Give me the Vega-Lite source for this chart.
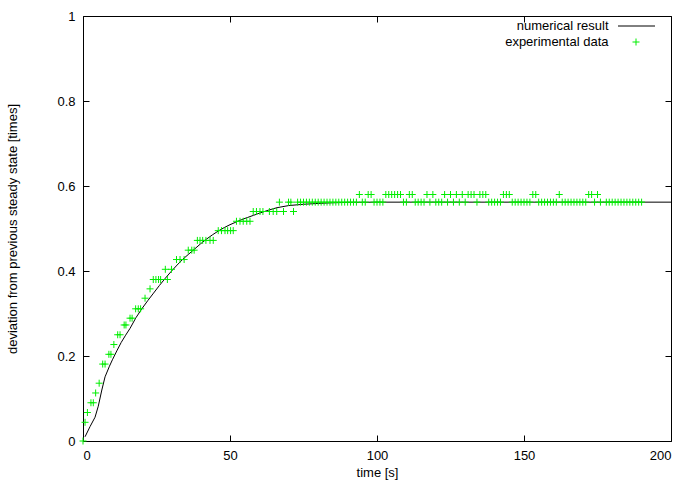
{
  "$schema": "https://vega.github.io/schema/vega-lite/v6.json",
  "width": 588,
  "height": 425,
  "autosize": {"type": "none"},
  "padding": {"left": 83, "top": 16, "right": 21, "bottom": 44},
  "config": {
    "view": {"stroke": "black", "strokeWidth": 1},
    "font": "Liberation Sans",
    "axis": {"grid": true, "gridColor": "#000000", "gridWidth": 1, "gridOpacity": 1, "gridCap": "butt", "domain": false, "ticks": false, "tickSize": 0, "labelColor": "black", "labelFontSize": 13, "labelFont": "Liberation Sans", "titleFont": "Liberation Sans", "titleFontSize": 13, "titleFontWeight": "normal", "titleColor": "black"},
    "axisX": {"gridDash": [6, 413, 6, 2000]},
    "axisY": {"gridDash": [6, 576, 6, 2000]},
    "legend": {"labelFontSize": 13, "labelFont": "Liberation Sans", "labelColor": "black", "labelLimit": 300, "padding": 0, "rowPadding": 0, "labelAlign": "right"}
  },
  "datasets": {
    "num": [
      {"t": 0.7, "y": 0.01}, {"t": 2.4, "y": 0.034}, {"t": 4.1, "y": 0.056}, {"t": 5.2, "y": 0.082}, {"t": 6.4, "y": 0.12}, {"t": 7.5, "y": 0.151},
      {"t": 9, "y": 0.176}, {"t": 10, "y": 0.191}, {"t": 11.5, "y": 0.212}, {"t": 13, "y": 0.232}, {"t": 14.5, "y": 0.249}, {"t": 16, "y": 0.265},
      {"t": 18, "y": 0.29}, {"t": 20, "y": 0.311}, {"t": 22, "y": 0.33}, {"t": 24, "y": 0.348}, {"t": 26, "y": 0.366}, {"t": 28, "y": 0.383},
      {"t": 30, "y": 0.399}, {"t": 32, "y": 0.414}, {"t": 34, "y": 0.428}, {"t": 36, "y": 0.44}, {"t": 38, "y": 0.452}, {"t": 40, "y": 0.464},
      {"t": 42, "y": 0.475}, {"t": 44, "y": 0.485}, {"t": 46, "y": 0.494}, {"t": 48, "y": 0.502}, {"t": 50, "y": 0.509}, {"t": 52, "y": 0.515},
      {"t": 54, "y": 0.521}, {"t": 56, "y": 0.526}, {"t": 58, "y": 0.531}, {"t": 60, "y": 0.536}, {"t": 63, "y": 0.543}, {"t": 66, "y": 0.549},
      {"t": 70, "y": 0.554}, {"t": 75, "y": 0.557}, {"t": 80, "y": 0.559}, {"t": 85, "y": 0.5605}, {"t": 90, "y": 0.5615}, {"t": 100, "y": 0.562},
      {"t": 200, "y": 0.562}
    ],
    "exp": [
      {"t": 0, "y": 0}, {"t": 0.7, "y": 0.044}, {"t": 1.5, "y": 0.067}, {"t": 2.7, "y": 0.09}, {"t": 3.5, "y": 0.09}, {"t": 4.3, "y": 0.113},
      {"t": 5.5, "y": 0.136}, {"t": 6.7, "y": 0.181}, {"t": 7.5, "y": 0.181}, {"t": 8.8, "y": 0.204}, {"t": 9.5, "y": 0.204}, {"t": 10.5, "y": 0.227},
      {"t": 11.8, "y": 0.25}, {"t": 12.6, "y": 0.25}, {"t": 14.0, "y": 0.273}, {"t": 14.6, "y": 0.273}, {"t": 16.0, "y": 0.289}, {"t": 16.7, "y": 0.289},
      {"t": 17.9, "y": 0.311}, {"t": 18.8, "y": 0.311}, {"t": 19.6, "y": 0.311}, {"t": 21.1, "y": 0.336}, {"t": 22.8, "y": 0.358}, {"t": 23.9, "y": 0.38},
      {"t": 24.8, "y": 0.38}, {"t": 25.7, "y": 0.38}, {"t": 26.4, "y": 0.38}, {"t": 28.0, "y": 0.404}, {"t": 28.7, "y": 0.38}, {"t": 30.1, "y": 0.404},
      {"t": 31.8, "y": 0.427}, {"t": 33.0, "y": 0.427}, {"t": 34.4, "y": 0.427}, {"t": 35.8, "y": 0.449}, {"t": 37.0, "y": 0.449}, {"t": 37.8, "y": 0.449},
      {"t": 38.9, "y": 0.472}, {"t": 39.8, "y": 0.472}, {"t": 40.7, "y": 0.472}, {"t": 41.8, "y": 0.472}, {"t": 43.2, "y": 0.472}, {"t": 44.3, "y": 0.472},
      {"t": 46.0, "y": 0.495}, {"t": 47.1, "y": 0.495}, {"t": 48.3, "y": 0.495}, {"t": 49.2, "y": 0.495}, {"t": 50.2, "y": 0.495}, {"t": 51.1, "y": 0.495},
      {"t": 52.2, "y": 0.517}, {"t": 53.4, "y": 0.517}, {"t": 54.5, "y": 0.517}, {"t": 55.7, "y": 0.517}, {"t": 56.8, "y": 0.517},
      {"t": 57.9, "y": 0.54}, {"t": 59.0, "y": 0.54}, {"t": 60.2, "y": 0.54}, {"t": 61.2, "y": 0.54}, {"t": 63.4, "y": 0.54}, {"t": 64.7, "y": 0.54},
      {"t": 65.9, "y": 0.54}, {"t": 66.8, "y": 0.562}, {"t": 68.2, "y": 0.54}, {"t": 69.9, "y": 0.562}, {"t": 70.7, "y": 0.562}, {"t": 71.6, "y": 0.54},
      {"t": 73, "y": 0.562}, {"t": 74, "y": 0.562}, {"t": 75, "y": 0.562}, {"t": 76, "y": 0.562}, {"t": 77, "y": 0.562}, {"t": 78, "y": 0.562},
      {"t": 79, "y": 0.562}, {"t": 80, "y": 0.562}, {"t": 81, "y": 0.562}, {"t": 82, "y": 0.562}, {"t": 83, "y": 0.562}, {"t": 84, "y": 0.562},
      {"t": 85, "y": 0.562}, {"t": 86, "y": 0.562}, {"t": 87, "y": 0.562}, {"t": 88, "y": 0.562}, {"t": 89, "y": 0.562}, {"t": 90, "y": 0.562},
      {"t": 91, "y": 0.562}, {"t": 92, "y": 0.562}, {"t": 93, "y": 0.562}, {"t": 94, "y": 0.58}, {"t": 95, "y": 0.562}, {"t": 96, "y": 0.562},
      {"t": 97, "y": 0.58}, {"t": 98, "y": 0.58}, {"t": 99, "y": 0.562}, {"t": 100, "y": 0.562}, {"t": 101, "y": 0.562}, {"t": 102, "y": 0.562},
      {"t": 103, "y": 0.58}, {"t": 104, "y": 0.58}, {"t": 105, "y": 0.58}, {"t": 106, "y": 0.58}, {"t": 107, "y": 0.58}, {"t": 108, "y": 0.58},
      {"t": 109, "y": 0.562}, {"t": 110, "y": 0.562}, {"t": 111, "y": 0.58}, {"t": 112, "y": 0.58}, {"t": 113, "y": 0.562}, {"t": 114, "y": 0.562},
      {"t": 115, "y": 0.562}, {"t": 116, "y": 0.562}, {"t": 117, "y": 0.58}, {"t": 118, "y": 0.562}, {"t": 119, "y": 0.58}, {"t": 120, "y": 0.562},
      {"t": 121, "y": 0.562}, {"t": 122, "y": 0.562}, {"t": 123, "y": 0.58}, {"t": 124, "y": 0.562}, {"t": 125, "y": 0.58}, {"t": 126, "y": 0.562},
      {"t": 127, "y": 0.58}, {"t": 128, "y": 0.562}, {"t": 129, "y": 0.58}, {"t": 130, "y": 0.562}, {"t": 131, "y": 0.58}, {"t": 132, "y": 0.58},
      {"t": 133, "y": 0.58}, {"t": 134, "y": 0.562}, {"t": 135, "y": 0.58}, {"t": 136, "y": 0.58}, {"t": 137, "y": 0.58}, {"t": 138, "y": 0.562},
      {"t": 139, "y": 0.562}, {"t": 140, "y": 0.562}, {"t": 141, "y": 0.562}, {"t": 142, "y": 0.562}, {"t": 143, "y": 0.58}, {"t": 144, "y": 0.58},
      {"t": 145, "y": 0.58}, {"t": 146, "y": 0.562}, {"t": 147, "y": 0.562}, {"t": 148, "y": 0.562}, {"t": 149, "y": 0.562}, {"t": 150, "y": 0.562},
      {"t": 151, "y": 0.562}, {"t": 152, "y": 0.562}, {"t": 153, "y": 0.58}, {"t": 154, "y": 0.58}, {"t": 155, "y": 0.562}, {"t": 156, "y": 0.562},
      {"t": 157, "y": 0.562}, {"t": 158, "y": 0.562}, {"t": 159, "y": 0.562}, {"t": 160, "y": 0.562}, {"t": 161, "y": 0.562}, {"t": 162, "y": 0.58},
      {"t": 163, "y": 0.562}, {"t": 164, "y": 0.562}, {"t": 165, "y": 0.562}, {"t": 166, "y": 0.562}, {"t": 167, "y": 0.562}, {"t": 168, "y": 0.562},
      {"t": 169, "y": 0.562}, {"t": 170, "y": 0.562}, {"t": 171, "y": 0.562}, {"t": 172, "y": 0.58}, {"t": 173, "y": 0.58}, {"t": 174, "y": 0.562},
      {"t": 175, "y": 0.58}, {"t": 176, "y": 0.562}, {"t": 178, "y": 0.562}, {"t": 179, "y": 0.562}, {"t": 180, "y": 0.562}, {"t": 181, "y": 0.562},
      {"t": 182, "y": 0.562}, {"t": 183, "y": 0.562}, {"t": 184, "y": 0.562}, {"t": 185, "y": 0.562}, {"t": 186, "y": 0.562}, {"t": 187, "y": 0.562},
      {"t": 188, "y": 0.562}, {"t": 189, "y": 0.562}, {"t": 190, "y": 0.562}
    ]
  },
  "resolve": {"axis": {"x": "independent", "y": "independent"}},
  "layer": [
    {
      "data": {"name": "num"},
      "mark": {"type": "line", "strokeWidth": 1},
      "encoding": {
        "x": {"field": "t", "type": "quantitative", "scale": {"domain": [0, 200], "nice": false, "zero": false},
              "axis": {"orient": "top", "values": [0, 50, 100, 150, 200], "labels": false, "title": null, "gridDash": [6, 413, 6, 2000]}},
        "y": {"field": "y", "type": "quantitative", "scale": {"domain": [0, 1], "nice": false},
              "axis": {"orient": "right", "values": [0, 0.2, 0.4, 0.6, 0.8, 1], "labels": false, "title": null, "gridDash": [6, 576, 6, 2000]}},
        "color": {"datum": "numerical result", "type": "nominal",
                  "scale": {"domain": ["numerical result"], "range": ["#000000"]},
                  "legend": {"orient": "none", "legendX": 534.5, "legendY": -9, "title": null,
                             "symbolType": "stroke", "symbolSize": 1369, "symbolStrokeWidth": 1, "symbolStrokeColor": "#000000", "symbolOpacity": 1,
                             "labelOffset": -47}}
      }
    },
    {
      "data": {"name": "exp"},
      "mark": {"type": "point", "filled": false, "size": 49, "strokeWidth": 1, "opacity": 1, "color": "#00ee00"},
      "encoding": {
        "x": {"field": "t", "type": "quantitative",
              "axis": {"orient": "bottom", "values": [0, 50, 100, 150, 200], "title": "time [s]", "labelPadding": 8, "titleY": 31, "titleBaseline": "middle", "gridDash": [6, 413, 6, 2000]}},
        "y": {"field": "y", "type": "quantitative",
              "axis": {"orient": "left", "values": [0, 0.2, 0.4, 0.6, 0.8, 1], "format": "~g", "labelPadding": 8, "gridDash": [6, 576, 6, 2000],
                       "title": "deviation from previous steady state [times]", "titleX": -71, "titleY": 212.5, "titleAngle": -90, "titleBaseline": "middle", "titleAlign": "center"}},
        "shape": {"datum": "experimental data", "type": "nominal",
                  "scale": {"domain": ["experimental data"], "range": ["M-1,0L1,0M0,-1L0,1"]},
                  "legend": {"orient": "none", "legendX": 546.5, "legendY": 19.5, "title": null,
                             "symbolSize": 49, "symbolStrokeWidth": 1, "symbolStrokeColor": "#00ee00", "symbolFillColor": "transparent", "symbolOpacity": 1,
                             "labelOffset": -34}}
      }
    }
  ]
}
